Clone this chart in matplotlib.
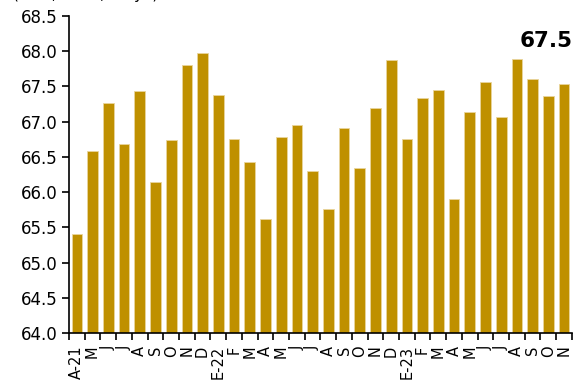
import numpy as np
import matplotlib
matplotlib.use("Agg")
import matplotlib.pyplot as plt
from matplotlib.ticker import FormatStrFormatter

# monthly values, April 2021 to November 2023
months = ["A-21", "M", "J", "J", "A", "S", "O", "N", "D",
          "E-22", "F", "M", "A", "M", "J", "J", "A", "S", "O", "N", "D",
          "E-23", "F", "M", "A", "M", "J", "J", "A", "S", "O", "N"]
values = [65.41, 66.58, 67.26, 66.68, 67.43, 66.15, 66.74, 67.80, 67.98,
          67.38, 66.75, 66.43, 65.62, 66.79, 66.95, 66.30, 65.76, 66.91,
          66.34, 67.20, 67.87, 66.75, 67.34, 67.45, 65.90, 67.14, 67.56,
          67.07, 67.89, 67.61, 67.37, 67.53]
y_ticks = [64.0, 64.5, 65.0, 65.5, 66.0, 66.5, 67.0, 67.5, 68.0, 68.5]

BAR_COLOR = "#BF9000"

plt.rcParams["font.family"] = ["DejaVu Sans"]

fig = plt.figure(figsize=(5.8, 3.86), dpi=100)
ax = fig.add_axes([0.119, 0.137, 0.867, 0.8215])

x = np.arange(len(values))
ax.bar(x, values, width=0.68, color=BAR_COLOR, edgecolor="#E9D59C",
       linewidth=0.6, zorder=2)

ax.set_ylim(y_ticks[0], y_ticks[-1])
ax.set_yticks(y_ticks)
ax.yaxis.set_major_formatter(FormatStrFormatter("%.1f"))
ax.set_xlim(-0.5, len(values) - 0.5)

# tick marks between bars, labels centred on bars
ax.set_xticks(np.arange(len(values) + 1) - 0.5)
ax.set_xticklabels([])
ax.set_xticks(x, minor=True)
ax.set_xticklabels(months, minor=True, rotation=90, fontsize=10.5)
ax.tick_params(axis="x", which="major", length=5, width=1.2, direction="out")
ax.tick_params(axis="x", which="minor", length=0, pad=9)
ax.tick_params(axis="y", labelsize=12, length=5, width=1.2, direction="out", pad=3)

for side in ("top", "right"):
    ax.spines[side].set_visible(False)
for side in ("left", "bottom"):
    ax.spines[side].set_linewidth(1.2)

# value of the last month
ax.text(len(values) - 0.45, 68.064, f"{values[-1]:.1f}", ha="right",
        va="baseline", fontsize=15.5, fontweight="bold")

# unit caption, almost entirely clipped at the top edge as in the source
fig.text(0.022, 1 + 1.2 / 386, "(tasa, en %, mayo)", fontsize=11,
         va="baseline", ha="left")

fig.savefig("out.png", dpi=100)
plt.close(fig)
